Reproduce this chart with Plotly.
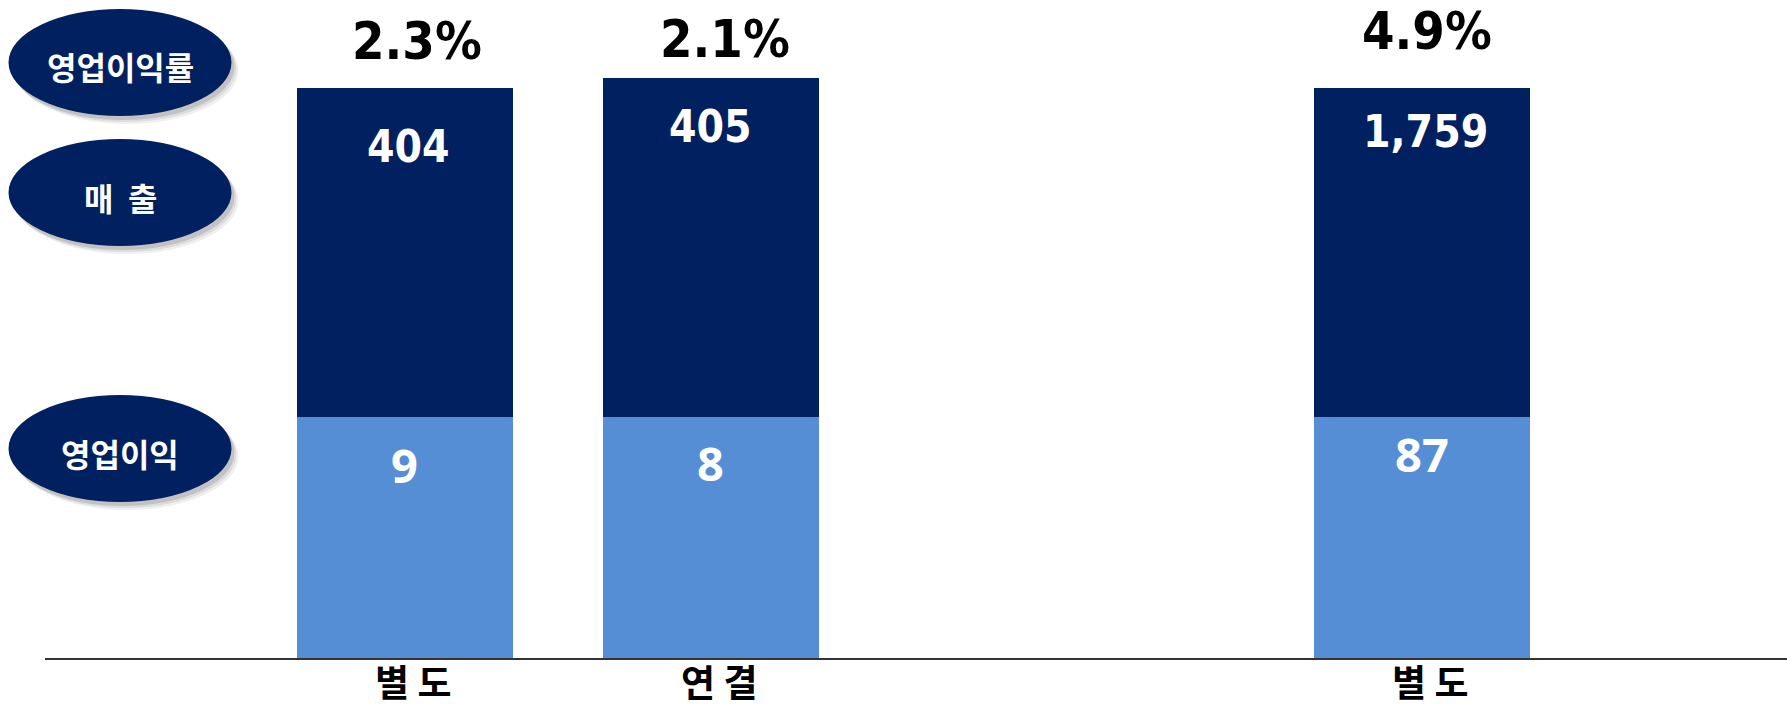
import plotly.graph_objects as go

# ---------------- data ----------------
categories = ["별 도", "연 결", "별 도"]
sales = [404, 405, 1759]          # 매출
op_profit = [9, 8, 87]            # 영업이익
op_margin = [2.3, 2.1, 4.9]       # 영업이익률 (%)
row_labels = ["영업이익률", "매 출", "영업이익"]

# schematic segment heights (the original chart is not drawn to scale)
profit_bar_h = [1.0, 1.0, 1.0]
sales_bar_h = [1.364, 1.405, 1.364]

# ---------------- layout / style constants ----------------
x_pos = [1, 2, 4.327]
W, H = 1787, 711
ML, MR, MT, MB = 45, 0, 0, 53
PW, PH = W - ML - MR, H - MT - MB
NAVY = "#002060"
LIGHT = "#558ED5"
pct_label_ypx = [41.5, 39, 31]
pct_label_dx = [12, 14, 5]
sales_label_dy = [-58, -48, -43]
profit_label_dy = [-48, -46, -37]
sales_label_dx = [4, 0, 3]


def px(xp):
    return (xp - ML) / PW


def py(yp):
    return (H - MB - yp) / PH


fig = go.Figure()
fig.add_trace(go.Bar(x=x_pos, y=profit_bar_h, width=0.7066,
                     marker=dict(color=LIGHT, line=dict(width=0)),
                     hoverinfo="skip", name="영업이익"))
fig.add_trace(go.Bar(x=x_pos, y=sales_bar_h, width=0.7066,
                     marker=dict(color=NAVY, line=dict(width=0)),
                     hoverinfo="skip", name="매출"))

annotations = []
shapes = []
NUMFONT = "DejaVu Sans Condensed, DejaVu Sans, Liberation Sans"

for i in range(len(x_pos)):
    top = profit_bar_h[i] + sales_bar_h[i]
    annotations.append(dict(
        x=x_pos[i], y=py(pct_label_ypx[i]), xref="x", yref="paper",
        xshift=pct_label_dx[i],
        text=f"<b>{op_margin[i]:.1f}%</b>", showarrow=False,
        font=dict(family=NUMFONT, size=52, color="#000000"),
        xanchor="center", yanchor="middle"))
    annotations.append(dict(
        x=x_pos[i], y=top, xref="x", yref="y",
        yshift=sales_label_dy[i], xshift=sales_label_dx[i],
        text=f"<b>{sales[i]:,}</b>", showarrow=False,
        font=dict(family=NUMFONT, size=44, color="#FFFFFF"),
        xanchor="center", yanchor="middle"))
    annotations.append(dict(
        x=x_pos[i], y=profit_bar_h[i], xref="x", yref="y",
        yshift=profit_label_dy[i],
        text=f"<b>{op_profit[i]:,}</b>", showarrow=False,
        font=dict(family="Noto Sans, Open Sans", size=47, color="#FFFFFF"),
        xanchor="center", yanchor="middle"))
    # category label under each bar (kept inside the page's bottom edge)
    annotations.append(dict(
        x=x_pos[i], y=0, xref="x", yref="y", yshift=-51, xshift=8,
        text=f"<b>{categories[i].replace(' ', '&nbsp;')}</b>", showarrow=False,
        font=dict(family="Noto Sans CJK KR", size=37, color="#000000"),
        xanchor="center", yanchor="bottom", borderpad=0))

# left-hand row badges (ellipses with soft shadow)
badge_cy = [62.5, 192.5, 448.5]
badge_text_cy = [66, 197, 453]
cx, rx, ry = 120, 111.5, 53.5
for cy, tcy, lab in zip(badge_cy, badge_text_cy, row_labels):
    for dx, dy, a in [(7, 8, 0.06), (5, 6, 0.08), (3, 4, 0.12)]:
        shapes.append(dict(type="circle", xref="paper", yref="paper",
                           x0=px(cx - rx + dx), x1=px(cx + rx + dx),
                           y0=py(cy + ry + dy), y1=py(cy - ry + dy),
                           fillcolor=f"rgba(0,0,0,{a})", line=dict(width=0),
                           layer="above"))
    shapes.append(dict(type="circle", xref="paper", yref="paper",
                       x0=px(cx - rx), x1=px(cx + rx),
                       y0=py(cy + ry), y1=py(cy - ry),
                       fillcolor=NAVY, line=dict(width=0), layer="above"))
    annotations.append(dict(
        x=px(cx), y=py(tcy), xref="paper", yref="paper",
        text=f"<b>{lab.replace(' ', '&nbsp;&nbsp;')}</b>", showarrow=False,
        font=dict(family="Noto Sans CJK KR", size=32, color="#FFFFFF"),
        xanchor="center", yanchor="middle"))

fig.update_layout(
    width=W, height=H, autosize=False,
    margin=dict(l=ML, r=MR, t=MT, b=MB, pad=0, autoexpand=False),
    barmode="stack", bargap=0,
    showlegend=False,
    plot_bgcolor="#FFFFFF", paper_bgcolor="#FFFFFF",
    xaxis=dict(range=[-0.1776, 5.5208], showgrid=False, zeroline=False,
               showline=True, linecolor="#333333", linewidth=2,
               ticks="", showticklabels=False, automargin=False,
               fixedrange=True),
    yaxis=dict(range=[0, 2.7303], visible=False, fixedrange=True,
               automargin=False),
    annotations=annotations, shapes=shapes,
)

fig.write_html("out.html",
               config={"displayModeBar": False, "staticPlot": True},
               post_script="document.body.style.margin='0px';"
                           "document.body.style.overflow='hidden';")
